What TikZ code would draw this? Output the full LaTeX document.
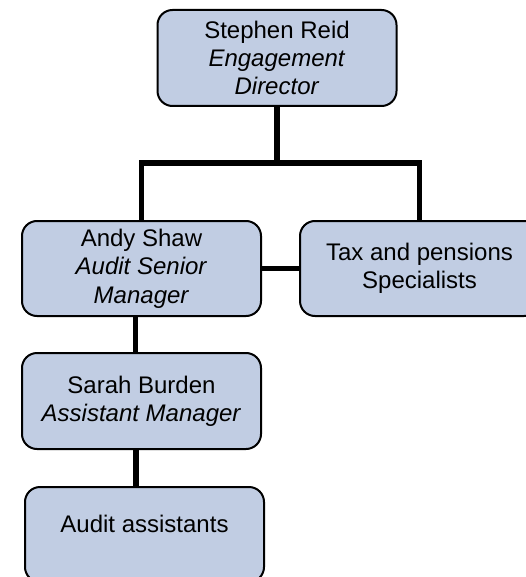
\documentclass[tikz,border=0pt]{standalone}
\usepackage{fontspec}
\setmainfont{Liberation Sans}
\definecolor{boxfill}{RGB}{193,205,227}
\begin{document}
\begin{tikzpicture}[x=0.5pt,y=-0.5pt,line join=miter,font=\fontsize{12}{14.2}\selectfont,
	post/.style={draw=black,line width=1pt,fill=boxfill,rounded corners=7.5pt,align=center,
		minimum width=119.5pt,minimum height=47.5pt,inner sep=0pt},
	link/.style={line width=2.6pt}]
	\useasboundingbox (0,0) rectangle (525,577);
	% boxes
	\node[post,minimum height=48pt] (dir) at (277,58) {Stephen Reid\\\textit{Engagement}\\\textit{Director}};
	\node[post] (andy) at (141.5,268.5) {Andy Shaw\\\textit{Audit Senior}\\\textit{Manager}};
	\node[post] (tax) at (419.5,268.5) {Tax and pensions\\Specialists};
	\node[post,minimum height=48pt] (sarah) at (141.5,401) {Sarah Burden\\\textit{Assistant Manager}};
	\node[post] (audit) at (144.5,534.5) {Audit assistants\\[-3pt]\mbox{}};
	% connectors
	\coordinate (fork) at (277,163);
	\draw[link] (dir.south) -- (fork);
	\draw[link] (andy.north) |- (fork) -| (tax.north);
	\draw[link] (andy.east) -- (tax.west);
	\draw[link] ([xshift=-3pt]andy.south) -- ([xshift=-3pt]andy.south |- sarah.north);
	\draw[link] ([xshift=-2.8pt]sarah.south) -- ([xshift=-2.8pt]sarah.south |- audit.north);
\end{tikzpicture}
\end{document}
